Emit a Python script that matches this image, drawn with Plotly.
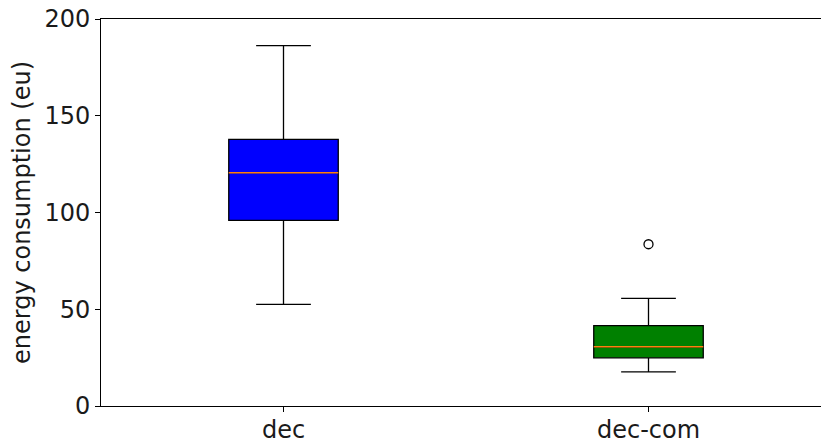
import plotly.graph_objects as go

# Summary statistics per configuration
categories = ["dec", "dec-com"]
positions = [1, 2]
q1 = [95.9, 24.9]
median = [120.6, 30.6]
q3 = [137.8, 41.5]
lower_whisker = [52.5, 17.6]
upper_whisker = [186.2, 55.6]
fill_colors = ["#0000ff", "#008000"]
outlier_pos = [2]
outlier_vals = [83.6]

BOX_W = 0.3
FONT = "DejaVu Sans"
FS = 24
TXT = "#1a1a1a"

fig = go.Figure()

for i, name in enumerate(categories):
    fig.add_trace(go.Box(
        x=[positions[i]],
        q1=[q1[i]], median=[median[i]], q3=[q3[i]],
        lowerfence=[lower_whisker[i]], upperfence=[upper_whisker[i]],
        width=BOX_W,
        whiskerwidth=0.5,
        fillcolor=fill_colors[i],
        line=dict(color="black", width=1.3),
        boxpoints=False,
        name=name,
        showlegend=False,
    ))
    # median line in orange
    fig.add_trace(go.Scatter(
        x=[positions[i] - BOX_W / 2, positions[i] + BOX_W / 2],
        y=[median[i], median[i]],
        mode="lines",
        line=dict(color="#ff7f0e", width=1.5),
        showlegend=False,
        hoverinfo="skip",
    ))

fig.add_trace(go.Scatter(
    x=outlier_pos, y=outlier_vals,
    mode="markers",
    marker=dict(symbol="circle-open", size=9, color="black", line=dict(width=1.3)),
    showlegend=False,
))

fig.update_layout(
    width=821, height=443,
    margin=dict(l=101, r=0, t=19, b=37),
    plot_bgcolor="white", paper_bgcolor="white",
    boxmode="overlay",
    font=dict(family=FONT, size=FS, color=TXT),
    xaxis=dict(
        range=[0.5, 0.5 + 720 / 365],
        tickvals=positions, ticktext=categories,
        showline=True, linecolor="black", linewidth=1, mirror=True,
        ticks="outside", ticklen=5, tickcolor="black",
        ticklabelstandoff=-3,
        showgrid=False, zeroline=False, automargin=False,
        tickfont=dict(family=FONT, size=FS, color=TXT),
    ),
    yaxis=dict(
        range=[0, 200],
        tickvals=[0, 50, 100, 150, 200],
        showline=True, linecolor="black", linewidth=1,
        ticks="outside", ticklen=5, tickcolor="black",
        showgrid=False, zeroline=False, automargin=False,
        title=dict(text="energy consumption (eu)", font=dict(family=FONT, size=FS, color=TXT), standoff=6),
        tickfont=dict(family=FONT, size=FS, color=TXT),
    ),
)

fig.write_html("out.html")
